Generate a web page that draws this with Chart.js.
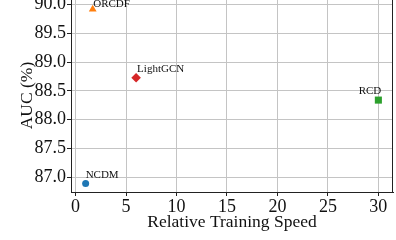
<!DOCTYPE html>
<html>
<head>
<meta charset="utf-8">
<script src="https://cdn.jsdelivr.net/npm/chart.js@4.4.1/dist/chart.umd.min.js"></script>
<style>
  html, body { margin: 0; padding: 0; background: #fff; overflow: hidden; }
  #wrap { position: absolute; left: 0; top: -10px; width: 398px; height: 250px; }
</style>
</head>
<body>
<div id="wrap"><canvas id="chart"></canvas></div>
<script>
// data
const methods = ['NCDM', 'ORCDF', 'LightGCN', 'RCD'];
const speed = [1, 1.7, 6, 30];
const auc = [86.89, 89.92, 88.73, 88.34];
const xTicks = [0, 5, 10, 15, 20, 25, 30];
const yTicks = [87.0, 87.5, 88.0, 88.5, 89.0, 89.5, 90.0];
const xRange = [-0.45, 31.45];
const yRange = [86.74, 90.10];

// marker styles (matplotlib tab10)
const colors = ['#1f77b4', '#ff7f0e', '#d62728', '#2ca02c'];
const shapes = ['circle', 'triangle', 'rectRot', 'rect'];
const radii = [3.5, 4.5, 4.8, 5];
// label placement relative to the marker: [dx, dy, align]
const labelPos = [[0, -5, 'left'], [0.5, -2, 'left'], [1, -5.5, 'left'], [-8.4, -6.3, 'center']];

const serif = '"Liberation Serif", "DejaVu Serif", serif';

const labelPlugin = {
  id: 'pointLabels',
  afterDatasetsDraw(chart) {
    const ctx = chart.ctx;
    ctx.save();
    ctx.font = '11px ' + serif;
    ctx.fillStyle = '#111';
    chart.data.datasets.forEach((ds, i) => {
      const pt = chart.getDatasetMeta(i).data[0];
      const [dx, dy, align] = labelPos[i];
      ctx.textAlign = align;
      ctx.fillText(methods[i], pt.x + dx, pt.y + dy);
    });
    ctx.restore();
  }
};

// full box around the plot, like matplotlib spines
const boxPlugin = {
  id: 'box',
  afterDraw(chart) {
    const { left, top, right, bottom } = chart.chartArea;
    const ctx = chart.ctx;
    ctx.save();
    ctx.strokeStyle = '#222';
    ctx.lineWidth = 1;
    ctx.strokeRect(Math.round(left) + 0.5, Math.round(top) + 0.5, Math.round(right - left) - 1, Math.round(bottom - top));
    ctx.restore();
  }
};

new Chart(document.getElementById('chart'), {
  type: 'scatter',
  data: {
    datasets: methods.map((name, i) => ({
      label: name,
      data: [{ x: speed[i], y: auc[i] }],
      pointStyle: shapes[i],
      pointRadius: radii[i],
      backgroundColor: colors[i],
      borderColor: colors[i],
      borderWidth: 0
    }))
  },
  options: {
    responsive: true,
    maintainAspectRatio: false,
    animation: false,
    layout: { padding: { top: 9, right: 2, left: 0, bottom: 0 } },
    plugins: { legend: { display: false }, tooltip: { enabled: false } },
    scales: {
      x: {
        type: 'linear',
        min: xRange[0],
        max: xRange[1],
        afterFit: (s) => { s.height = 48; s.paddingLeft = 0; s.paddingRight = 0; },
        afterBuildTicks: (s) => { s.ticks = xTicks.map(v => ({ value: v })); },
        ticks: { color: '#111', font: { family: serif, size: 18 }, padding: 0, maxRotation: 0 },
        grid: { color: '#c4c4c4', lineWidth: 1, tickColor: '#222', tickLength: 4 },
        border: { color: '#222' },
        title: { display: true, text: 'Relative Training Speed', color: '#111',
                 font: { family: serif, size: 17.5 }, padding: { top: 0, bottom: 7 } }
      },
      y: {
        type: 'linear',
        min: yRange[0],
        max: yRange[1],
        afterFit: (s) => { s.width = 71; s.paddingTop = 0; s.paddingBottom = 0; },
        afterBuildTicks: (s) => { s.ticks = yTicks.map(v => ({ value: v })); },
        ticks: { color: '#111', font: { family: serif, size: 18 }, padding: 1,
                 callback: (v) => Number(v).toFixed(1) },
        grid: { color: '#c4c4c4', lineWidth: 1, tickColor: '#222', tickLength: 4 },
        border: { color: '#222' },
        title: { display: true, text: 'AUC (%)', color: '#111',
                 font: { family: serif, size: 17.5 }, padding: { top: 17, bottom: 0 } }
      }
    }
  },
  plugins: [labelPlugin, boxPlugin]
});
</script>
</body>
</html>
